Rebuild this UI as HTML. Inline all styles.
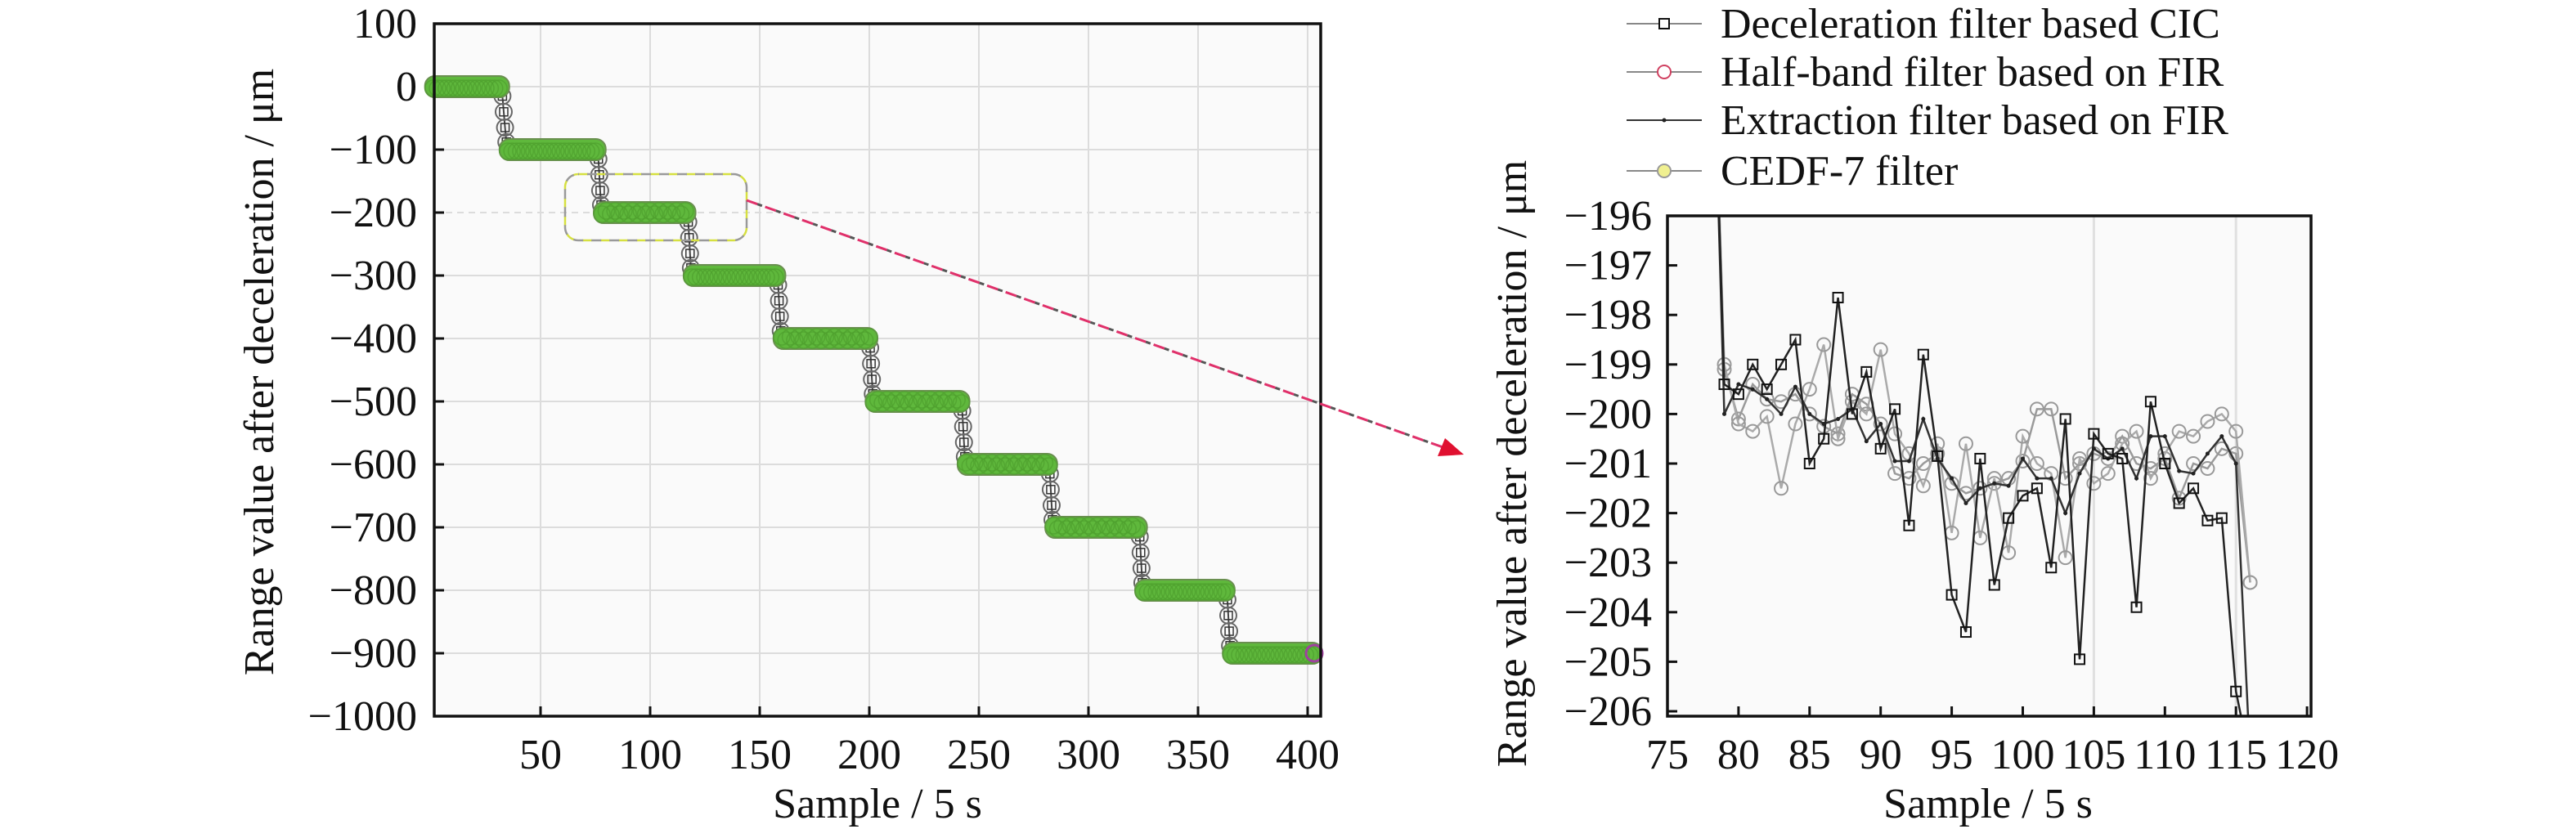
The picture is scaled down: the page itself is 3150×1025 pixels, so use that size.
<!DOCTYPE html>
<html><head><meta charset="utf-8"><style>
html,body{margin:0;padding:0;background:#fff;overflow:hidden;width:3150px;height:1025px;}
svg{display:block;font-family:"Liberation Serif",serif;}
</style></head><body>
<svg id="fig" width="3150" height="1025" viewBox="0 0 3150 1025">
<g id="left"></g>
<g id="right"></g>
<g id="legend"></g>
</svg>
<script>
// ---- Left chart data ----
const levels = [0,-100,-200,-300,-400,-500,-600,-700,-800,-900];
const plateauStart = [1,35,78,119,160,202,244,284,325,365];
const plateauEnd = [32,76,117,158,200,242,282,323,363,403];
const transOffsets = [-15,-40,-65,-88];
const leftYTicks = [100,0,-100,-200,-300,-400,-500,-600,-700,-800,-900,-1000];
const leftXTicks = [50,100,150,200,250,300,350,400];
// ---- Right chart data ----
const zoomX = [78,79,80,81,82,83,84,85,86,87,88,89,90,91,92,93,94,95,96,97,98,99,100,101,102,103,104,105,106,107,108,109,110,111,112,113,114,115,116];
const cicVals = [-190,-199.4,-199.6,-199.0,-199.5,-199.0,-198.5,-201.0,-200.5,-197.65,-200.0,-199.15,-200.7,-199.9,-202.25,-198.8,-200.85,-203.65,-204.4,-200.9,-203.45,-202.1,-201.65,-201.5,-203.1,-200.1,-204.95,-200.4,-200.8,-200.9,-203.9,-199.75,-201.0,-201.8,-201.5,-202.15,-202.1,-205.6,-207];
const halfBandVals = [-190,-199.1,-200.1,-199.4,-199.7,-199.75,-199.6,-200.0,-200.25,-200.4,-199.6,-199.8,-200.2,-201.2,-201.3,-201.0,-200.8,-201.4,-201.6,-201.5,-201.4,-201.3,-200.95,-199.9,-199.9,-201.3,-201.0,-200.8,-200.9,-200.45,-201.0,-201.1,-200.9,-201.7,-201.0,-201.1,-200.7,-200.8,-203.4];
const extractVals = [-190,-200.0,-199.4,-199.5,-199.7,-200.0,-199.45,-200.0,-200.2,-200.1,-199.9,-200.55,-200.2,-200.95,-200.95,-200.1,-200.9,-201.3,-201.8,-201.5,-201.4,-201.45,-200.9,-201.3,-201.3,-202.0,-201.2,-200.7,-200.9,-200.7,-201.3,-200.45,-200.45,-201.15,-201.2,-200.8,-200.45,-201.0,-207];
const cedfVals = [-190,-199.0,-200.2,-200.35,-200.05,-201.5,-200.2,-199.5,-198.6,-200.5,-199.75,-200.0,-198.7,-200.4,-200.8,-201.45,-200.6,-202.4,-200.6,-202.5,-201.3,-202.8,-200.45,-201.0,-201.2,-202.9,-200.9,-201.4,-201.2,-200.6,-200.35,-201.3,-200.8,-200.35,-200.45,-200.15,-200.0,-200.35,-203.4];
const rightYTicks = [-196,-197,-198,-199,-200,-201,-202,-203,-204,-205,-206];
const rightXTicks = [75,80,85,90,95,100,105,110,115,120];

const NS="http://www.w3.org/2000/svg";
function mk(parent,tag,attrs,text){const e=document.createElementNS(NS,tag);for(const k in attrs)e.setAttribute(k,attrs[k]);if(text!==undefined)e.textContent=text;parent.appendChild(e);return e;}
const fmt=v=>v<0?"\u2212"+Math.abs(v):String(v);

// ---------- LEFT ----------
const L=document.getElementById('left');
const lx0=531,lx1=1615,ly0=29,ly1=876;
const xL=v=>527+v*2.68, yL=v=>ly0+(100-v)*0.77;
mk(L,'rect',{x:lx0,y:ly0,width:lx1-lx0,height:ly1-ly0,fill:'#fafafa'});
leftYTicks.forEach(t=>{
  const gl=mk(L,'line',{x1:lx0,x2:lx1,y1:yL(t),y2:yL(t),stroke:'#dcdcdc','stroke-width':2,'stroke-dasharray':t===-200?'8 6':'none'});
  
  
  mk(L,'line',{x1:lx0,x2:lx0+12,y1:yL(t),y2:yL(t),stroke:'#111','stroke-width':3});
  const tl=mk(L,'text',{x:510,y:yL(t)+17,'font-size':52,'text-anchor':'end',fill:'#111'},fmt(t));
  
  
});
leftXTicks.forEach(t=>{
  const gl=mk(L,'line',{x1:xL(t),x2:xL(t),y1:ly0,y2:ly1,stroke:'#dcdcdc','stroke-width':2});
  
  
  mk(L,'line',{x1:xL(t),x2:xL(t),y1:ly1,y2:ly1-12,stroke:'#111','stroke-width':3});
  const tl=mk(L,'text',{x:xL(t),y:940,'font-size':52,'text-anchor':'middle',fill:'#111'},String(t));
  
  
});
for(let i=0;i<levels.length-1;i++){
  const xa=plateauEnd[i], xb=plateauStart[i+1];
  const pts=[[xa,levels[i]]];
  transOffsets.forEach((o,j)=>pts.push([xa+(xb-xa)*(j+1)/(transOffsets.length+1),levels[i]+o]));
  pts.push([xb,levels[i+1]]);
  const pl=mk(L,'polyline',{points:pts.map(p=>xL(p[0])+','+yL(p[1])).join(' '),fill:'none',stroke:'#444','stroke-width':2});
  
  
  pts.slice(1,-1).forEach(p=>{
    const c=mk(L,'circle',{cx:xL(p[0]),cy:yL(p[1]),r:10,fill:'none',stroke:'#666','stroke-width':2});
    
    
    mk(L,'rect',{x:xL(p[0])-5,y:yL(p[1])-5,width:10,height:10,fill:'none',stroke:'#333','stroke-width':1.5});
  });
}
levels.forEach((lv,i)=>{
  const g=mk(L,'g',{});
  
  
  mk(g,'rect',{x:xL(plateauStart[i])-10,y:yL(lv)-13,width:xL(plateauEnd[i])-xL(plateauStart[i])+20,height:26,rx:12,fill:'#5fb83c',stroke:'#6a8f50','stroke-width':2});
  for(let s=plateauStart[i];s<=plateauEnd[i];s+=2){
    mk(g,'circle',{cx:xL(s),cy:yL(lv)+(s%4?2:-2),r:10,fill:'none',stroke:'#4fa02e','stroke-width':1.5,opacity:0.7});
  }
});
mk(L,'circle',{cx:xL(403),cy:yL(-900),r:10,fill:'none',stroke:'#a040a0','stroke-width':3});
const box=mk(L,'rect',{x:lx0,y:ly0,width:lx1-lx0,height:ly1-ly0,fill:'none',stroke:'#111','stroke-width':3.5});


const zb=mk(L,'rect',{x:691,y:213,width:222,height:81,rx:16,fill:'none',stroke:'#d6e040','stroke-width':2.5,'stroke-dasharray':'12 10'});


mk(L,'rect',{x:691,y:213,width:222,height:81,rx:16,fill:'none',stroke:'#999','stroke-width':2.5,'stroke-dasharray':'12 10','stroke-dashoffset':11});
const ar=mk(document.getElementById('fig'),'line',{x1:913,y1:245,x2:1770,y2:549,stroke:'#e0306a','stroke-width':3,'stroke-dasharray':'14 10'});


mk(document.getElementById('fig'),'line',{x1:913,y1:245,x2:1770,y2:549,stroke:'#555','stroke-width':3,'stroke-dasharray':'6 18','stroke-dashoffset':-14});
mk(document.getElementById('fig'),'polygon',{points:'1790,556 1758,558 1767,536',fill:'#e01030'});
const ylt=mk(L,'text',{x:0,y:0,'font-size':52,'text-anchor':'middle',fill:'#111',transform:'translate(334,455) rotate(-90)'},'Range value after deceleration / \u03bcm');


const xlt=mk(L,'text',{x:1073,y:1000,'font-size':52,'text-anchor':'middle',fill:'#111'},'Sample / 5 s');



// ---------- RIGHT ----------
const R=document.getElementById('right');
const rx0=2039,rx1=2826,ry0=264,ry1=876;
const xR=v=>rx0+(v-75)*17.38, yR=v=>ry0+(-196-v)*60.6;
mk(R,'rect',{x:rx0,y:ry0,width:rx1-rx0,height:ry1-ry0,fill:'#fafafa'});
[105,115].forEach(t=>{
  const gl=mk(R,'line',{x1:xR(t),x2:xR(t),y1:ry0,y2:ry1,stroke:'#e0e0e0','stroke-width':3});
  
  
});
rightYTicks.forEach(t=>{
  mk(R,'line',{x1:rx0,x2:rx0+12,y1:yR(t),y2:yR(t),stroke:'#111','stroke-width':3});
  const tl=mk(R,'text',{x:2020,y:yR(t)+17,'font-size':52,'text-anchor':'end',fill:'#111'},fmt(t));
  
  
});
rightXTicks.forEach(t=>{
  mk(R,'line',{x1:xR(t),x2:xR(t),y1:ry1,y2:ry1-12,stroke:'#111','stroke-width':3});
  const tl=mk(R,'text',{x:xR(t),y:940,'font-size':52,'text-anchor':'middle',fill:'#111'},String(t));
  
  
});
mk(R,'clipPath',{id:'rclip'}).appendChild((()=>{const r=document.createElementNS(NS,'rect');r.setAttribute('x',rx0);r.setAttribute('y',ry0);r.setAttribute('width',rx1-rx0);r.setAttribute('height',ry1-ry0);return r;})());
const plot=mk(R,'g',{'clip-path':'url(#rclip)'});
function series(vals,name,lineColor,marker){
  const g=mk(plot,'g',{});
  
  
  mk(g,'polyline',{points:zoomX.map((x,i)=>xR(x)+','+yR(vals[i])).join(' '),fill:'none',stroke:lineColor,'stroke-width':2.5});
  zoomX.forEach((x,i)=>{
    const cx=xR(x),cy=yR(vals[i]);
    if(marker==='sq') mk(g,'rect',{x:cx-6,y:cy-6,width:12,height:12,fill:'none',stroke:'#111','stroke-width':2});
    else if(marker==='dot') mk(g,'circle',{cx,cy,r:2.5,fill:'#222'});
    else mk(g,'circle',{cx,cy,r:8,fill:'none',stroke:marker,'stroke-width':2});
  });
}
series(halfBandVals,'series-half-band-fir','#9a9a9a','#999');
series(cedfVals,'series-cedf-7','#aaaaaa','#999');
series(extractVals,'series-extraction-fir','#333','dot');
series(cicVals,'series-cic','#222','sq');
const rbox=mk(R,'rect',{x:rx0,y:ry0,width:rx1-rx0,height:ry1-ry0,fill:'none',stroke:'#111','stroke-width':3.5});


const rylt=mk(R,'text',{x:0,y:0,'font-size':52,'text-anchor':'middle',fill:'#111',transform:'translate(1866,567) rotate(-90)'},'Range value after deceleration / \u03bcm');


const rxlt=mk(R,'text',{x:2431,y:1000,'font-size':52,'text-anchor':'middle',fill:'#111'},'Sample / 5 s');



// ---------- LEGEND ----------
const G=document.getElementById('legend');
const legNames=['Deceleration filter based CIC','Half-band filter based on FIR','Extraction filter based on FIR','CEDF-7 filter'];
const legY=[29,88,147,209];
legNames.forEach((n,i)=>{
  const g=mk(G,'g',{});
  
  
  mk(g,'line',{x1:1989,x2:2081,y1:legY[i],y2:legY[i],stroke:i===2?'#333':'#888','stroke-width':2});
  if(i===0) mk(g,'rect',{x:2029,y:legY[i]-6,width:12,height:12,fill:'#fff',stroke:'#111','stroke-width':2});
  if(i===1) mk(g,'circle',{cx:2035,cy:legY[i],r:8,fill:'#fff',stroke:'#d04060','stroke-width':2});
  if(i===2) mk(g,'circle',{cx:2035,cy:legY[i],r:2.5,fill:'#222'});
  if(i===3) mk(g,'circle',{cx:2035,cy:legY[i],r:8,fill:'#f0f090',stroke:'#999','stroke-width':2});
  mk(g,'text',{x:2104,y:legY[i]+17,'font-size':52,fill:'#111'},n);
});
</script>
</body></html>
